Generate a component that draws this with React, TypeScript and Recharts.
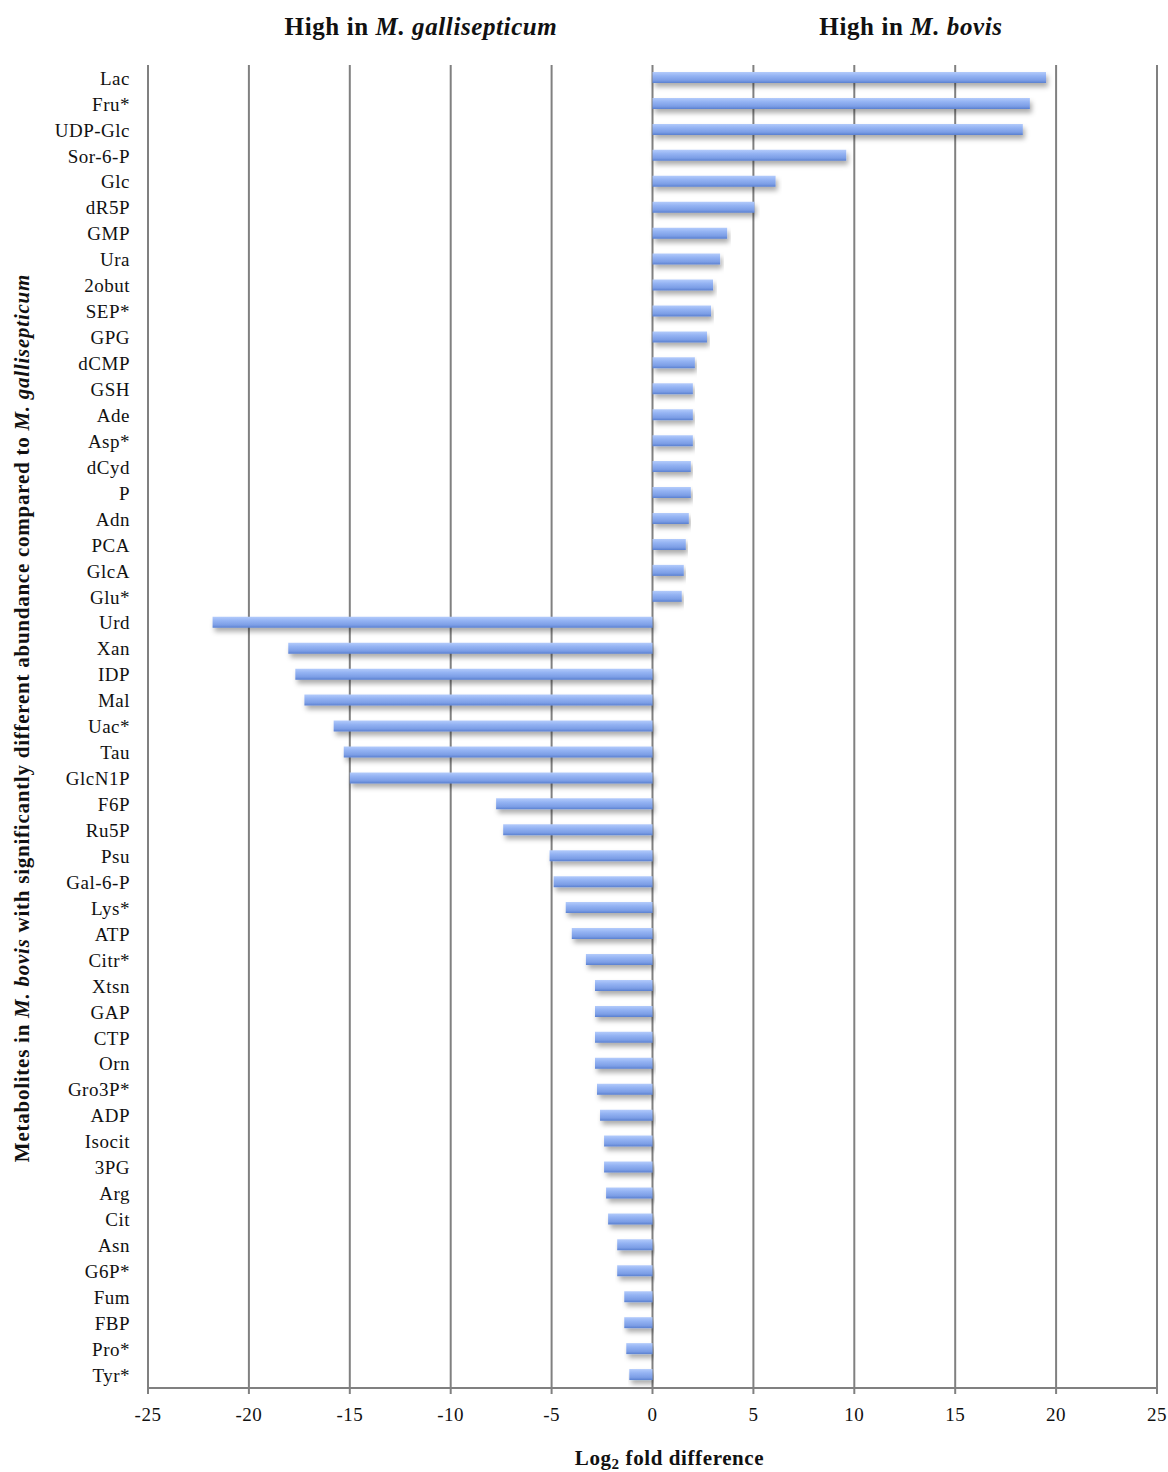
import React from "react";
import { BarChart, Bar, XAxis, YAxis, CartesianGrid, Label } from "recharts";

const metabolites = [
  "Lac", "Fru*", "UDP-Glc", "Sor-6-P", "Glc", "dR5P", "GMP", "Ura", "2obut", "SEP*",
  "GPG", "dCMP", "GSH", "Ade", "Asp*", "dCyd", "P", "Adn", "PCA", "GlcA",
  "Glu*", "Urd", "Xan", "IDP", "Mal", "Uac*", "Tau", "GlcN1P", "F6P", "Ru5P",
  "Psu", "Gal-6-P", "Lys*", "ATP", "Citr*", "Xtsn", "GAP", "CTP", "Orn", "Gro3P*",
  "ADP", "Isocit", "3PG", "Arg", "Cit", "Asn", "G6P*", "Fum", "FBP", "Pro*", "Tyr*",
];

const log2Fold = [
  19.5, 18.7, 18.35, 9.6, 6.1, 5.05, 3.7, 3.35, 3.0, 2.9,
  2.7, 2.1, 2.0, 2.0, 2.0, 1.9, 1.9, 1.8, 1.65, 1.55,
  1.45, -21.8, -18.05, -17.7, -17.25, -15.8, -15.3, -15.0, -7.75, -7.4,
  -5.1, -4.9, -4.3, -4.0, -3.3, -2.85, -2.85, -2.85, -2.85, -2.75,
  -2.6, -2.4, -2.4, -2.3, -2.2, -1.75, -1.75, -1.4, -1.4, -1.3, -1.15,
];

const xTicks = [-25, -20, -15, -10, -5, 0, 5, 10, 15, 20, 25];

const data = metabolites.map((name, i) => ({ name, value: log2Fold[i] }));

const serif = "'Liberation Serif', 'Times New Roman', serif";

const XLabel = (props: any) => {
  const vb = props.viewBox;
  return (
    <text
      x={vb.x + vb.width / 2 + 17}
      y={1465}
      textAnchor="middle"
      fontFamily={serif}
      fontWeight="bold"
      fontSize={21}
      letterSpacing={0.6}
      fill="#111"
    >
      <tspan>Log</tspan>
      <tspan dy={4} fontSize={15}>2</tspan>
      <tspan dy={-4}> fold difference</tspan>
    </text>
  );
};

const YLabel = () => (
  <text
    x={0}
    y={0}
    transform="translate(29, 718) rotate(-90)"
    textAnchor="middle"
    fontFamily={serif}
    fontWeight="bold"
    fontSize={21}
    letterSpacing={0.75}
    fill="#111"
  >
    Metabolites in <tspan fontStyle="italic">M. bovis</tspan> with significantly different
    abundance compared to <tspan fontStyle="italic">M. gallisepticum</tspan>
  </text>
);

const App = () => {
  return (
    <div style={{ position: "absolute", left: 0, top: 0, width: 1168, height: 1472, background: "#fff" }}>
      <BarChart
        width={1168}
        height={1472}
        data={data}
        layout="vertical"
        barCategoryGap={0}
        margin={{ top: 65, right: 11, bottom: 54, left: 0 }}
      >
        <defs>
          <linearGradient id="barFill" x1="0" y1="0" x2="0" y2="1">
            <stop offset="0%" stopColor="#b3cbfb" />
            <stop offset="35%" stopColor="#94b3f3" />
            <stop offset="75%" stopColor="#7c9ee6" />
            <stop offset="100%" stopColor="#5a80d0" />
          </linearGradient>
          <filter id="barShadow" x="-5%" y="-50%" width="110%" height="250%">
            <feDropShadow dx="2" dy="4" stdDeviation="2.5" floodColor="#000" floodOpacity="0.32" />
          </filter>
        </defs>
        <CartesianGrid horizontal={false} vertical stroke="#808080" strokeWidth={2} />
        <XAxis
          type="number"
          domain={[-25, 25]}
          ticks={xTicks}
          interval={0}
          height={30}
          axisLine={{ stroke: "#808080", strokeWidth: 2 }}
          tickLine={{ stroke: "#808080", strokeWidth: 2 }}
          tickSize={6}
          tickMargin={14}
          tick={{ fill: "#111", fontSize: 19, fontFamily: serif, letterSpacing: 0.5 }}
        >
          <Label content={<XLabel />} />
        </XAxis>
        <YAxis
          type="category"
          dataKey="name"
          width={148}
          interval={0}
          axisLine={false}
          tickLine={false}
          tickMargin={12}
          tick={{ fill: "#111", fontSize: 19, fontFamily: serif, letterSpacing: 0.5 }}
        >
          <Label content={<YLabel />} />
        </YAxis>
        <Bar
          dataKey="value"
          barSize={11}
          fill="url(#barFill)"
          filter="url(#barShadow)"
          isAnimationActive={false}
        />
      </BarChart>
      <div
        style={{
          position: "absolute",
          top: 13,
          left: 0,
          width: 1168,
          fontFamily: serif,
          fontWeight: "bold",
          fontSize: 25,
          letterSpacing: 0.6,
          color: "#111",
        }}
      >
        <div style={{ position: "absolute", left: 421, transform: "translateX(-50%)", whiteSpace: "nowrap" }}>
          High in <i>M. gallisepticum</i>
        </div>
        <div style={{ position: "absolute", left: 911, transform: "translateX(-50%)", whiteSpace: "nowrap" }}>
          High in <i>M. bovis</i>
        </div>
      </div>
    </div>
  );
};

export default App;
